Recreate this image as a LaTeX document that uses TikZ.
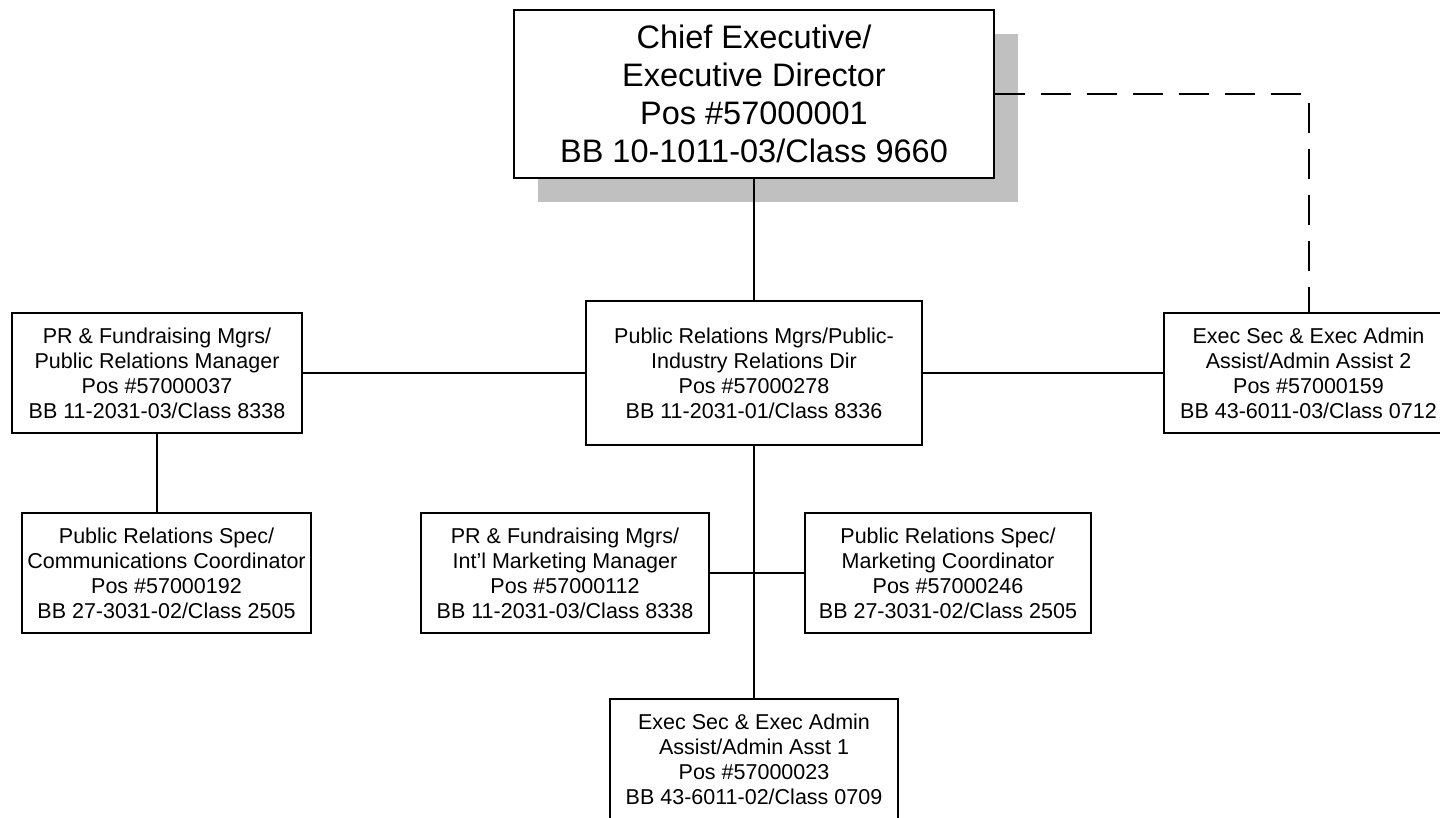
\documentclass[tikz,border=0pt]{standalone}
\usepackage{fontspec}
\setmainfont{Liberation Sans}
\usetikzlibrary{shadows}
\definecolor{shadowgray}{HTML}{C0C0C0}
\tikzset{
  posbox/.style={draw=black, line width=2pt, fill=white, align=center, inner sep=0pt,
    minimum height=120pt, font=\fontsize{21.5}{25}\selectfont},
  bigbox/.style={draw=black, line width=2pt, fill=white, align=center, inner sep=0pt,
    minimum width=480pt, minimum height=168pt, font=\fontsize{32.5}{38}\selectfont,
    drop shadow={shadow xshift=24pt, shadow yshift=-24pt, opacity=1, fill=shadowgray, draw=none}},
  link/.style={draw=black, line width=2pt},
  dottedlink/.style={draw=black, line width=2pt, dash pattern=on 30pt off 16pt}
}
\begin{document}
\begin{tikzpicture}[x=1pt, y=-1pt]
\useasboundingbox (0,0) rectangle (1440,817);
\node[bigbox] (ceo) at (754,94) {Chief Executive/\\Executive Director\\Pos \#57000001\\BB 10-1011-03/Class 9660};
\node[posbox, minimum width=336pt, minimum height=144pt] (prdir) at (754,373) {Public Relations Mgrs/Public-\\Industry Relations Dir\\Pos \#57000278\\BB 11-2031-01/Class 8336};
\node[posbox, minimum width=290pt] (prmgr) at (157,373) {PR \& Fundraising Mgrs/\\Public Relations Manager\\Pos \#57000037\\BB 11-2031-03/Class 8338};
\node[posbox, minimum width=289pt] (admin2) at (1308.5,373) {Exec Sec \& Exec Admin\\Assist/Admin Assist 2\\Pos \#57000159\\BB 43-6011-03/Class 0712};
\node[posbox, minimum width=289pt] (comm) at (166.5,573) {Public Relations Spec/\\Communications Coordinator\\Pos \#57000192\\BB 27-3031-02/Class 2505};
\node[posbox, minimum width=288pt] (intl) at (565,573) {PR \& Fundraising Mgrs/\\Int'l Marketing Manager\\Pos \#57000112\\BB 11-2031-03/Class 8338};
\node[posbox, minimum width=286pt] (mkt) at (948,573) {Public Relations Spec/\\Marketing Coordinator\\Pos \#57000246\\BB 27-3031-02/Class 2505};
\node[posbox, minimum width=288pt] (admin1) at (754,759) {Exec Sec \& Exec Admin\\Assist/Admin Asst 1\\Pos \#57000023\\BB 43-6011-02/Class 0709};

\draw[link] (ceo.south) -- (prdir.north);
\draw[link] (prmgr.east) -- (prdir.west);
\draw[link] (prdir.east) -- (admin2.west);
\draw[link] (prmgr.south) -- (prmgr.south |- comm.north);
\draw[link] (prdir.south) -- (admin1.north);
\draw[link] (intl.east) -- (mkt.west);
\draw[dottedlink] (ceo.east) -| (admin2.north);
\end{tikzpicture}
\end{document}
